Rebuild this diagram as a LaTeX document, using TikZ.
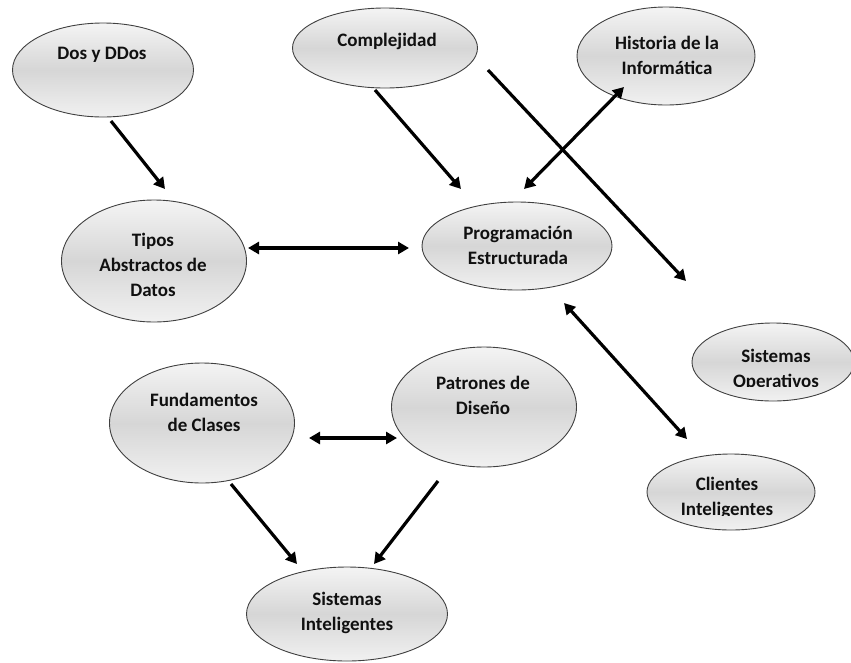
\documentclass[tikz,border=0pt]{standalone}
\usepackage{fontspec}
\setmainfont{Carlito}
\usetikzlibrary{shapes.geometric,arrows.meta}

\definecolor{rimgray}{HTML}{F4F4F4}
\definecolor{midgray}{HTML}{D6D6D6}
\definecolor{inkcol}{HTML}{101010}

\tikzset{
  bubble/.style={ellipse, draw=black!75, line width=0.9pt,
    top color=rimgray, bottom color=rimgray!90!midgray, middle color=midgray,
    inner sep=0pt},
  caption/.style={align=center, inner sep=0pt, text=inkcol,
    font=\fontsize{19}{25}\selectfont\bfseries},
  link/.style={line width=3.2pt, black,
    -{Triangle[length=11pt,width=12pt]}},
  duallink/.style={line width=3.2pt, black,
    {Triangle[length=11pt,width=12pt]}-{Triangle[length=11pt,width=12pt]}},
}

\begin{document}
\begin{tikzpicture}[x=1pt,y=-1pt]
\useasboundingbox (0,0) rectangle (851,662);

% topic bubbles
\node[bubble, minimum width=181, minimum height=94] (dos) at (103,70) {};
\node[caption] (dos-t) at (102,55) {Dos y DDos};

\node[bubble, minimum width=185, minimum height=80] (comp) at (385,48) {};
\node[caption] (comp-t) at (387,41) {Complejidad};

\node[bubble, minimum width=178, minimum height=98] (hist) at (666,56) {};
\node[caption] (hist-t) at (667,55) {Historia de la\\Informática};

\node[bubble, minimum width=185, minimum height=122] (tad) at (154,261) {};
\node[caption] (tad-t) at (153,265) {Tipos\\Abstractos de\\Datos};

\node[bubble, minimum width=190, minimum height=88] (prog) at (517,246) {};
\node[caption] (prog-t) at (518,245) {Programación\\Estructurada};

\node[bubble, minimum width=162, minimum height=78] (so) at (773,362) {};
\begin{scope}
  \clip (680,330) rectangle (851,386);
  \node[caption] (so-t) at (776,370) {Sistemas\\Operativos};
\end{scope}

\node[bubble, minimum width=168, minimum height=76] (cli) at (731,492) {};
\begin{scope}
  \clip (650,460) rectangle (820,515.5);
  \node[caption] (cli-t) at (727,498) {Clientes\\Inteligentes};
\end{scope}

\node[bubble, minimum width=185, minimum height=120] (fun) at (202,423) {};
\node[caption] (fun-t) at (204,412) {Fundamentos\\de Clases};

\node[bubble, minimum width=185, minimum height=120] (pat) at (484,407) {};
\node[caption] (pat-t) at (483,395) {Patrones de\\Diseño};

\node[bubble, minimum width=201, minimum height=94] (si) at (347,614) {};
\node[caption] (si-t) at (347,613) {Sistemas\\Inteligentes};

% free ends of the connectors
\coordinate (dos-o)  at (111,121);
\coordinate (tad-i)  at (165,189);
\coordinate (comp-o) at (375,90);
\coordinate (prog-i) at (461,189);
\coordinate (comp-r) at (488,70);
\coordinate (so-i)   at (686,281);
\coordinate (prog-h) at (524,189);
\coordinate (hist-i) at (624,87);
\coordinate (tad-r)  at (248,248);
\coordinate (prog-l) at (409,248);
\coordinate (prog-b) at (564,303);
\coordinate (cli-i)  at (687,439);
\coordinate (fun-r)  at (309,438);
\coordinate (pat-l)  at (397,438);
\coordinate (fun-o)  at (231,484);
\coordinate (si-l)   at (297,564);
\coordinate (pat-o)  at (438,481);
\coordinate (si-r)   at (374,564);

% connectors
\draw[link] (dos-o) -- (tad-i);
\draw[link] (comp-o) -- (prog-i);
\draw[link] (comp-r) -- (so-i);
\draw[duallink] (prog-h) -- (hist-i);
\draw[duallink] (tad-r) -- (prog-l);
\draw[duallink] (prog-b) -- (cli-i);
\draw[duallink] (fun-r) -- (pat-l);
\draw[link] (fun-o) -- (si-l);
\draw[link] (pat-o) -- (si-r);
\end{tikzpicture}
\end{document}
